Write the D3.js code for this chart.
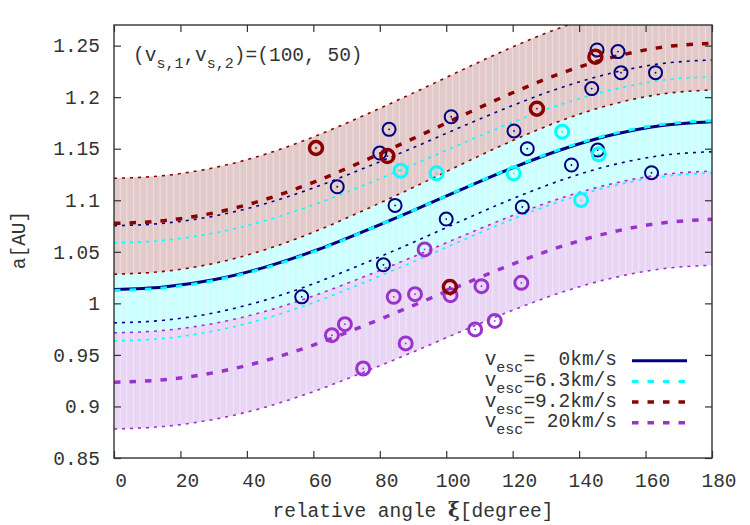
<!doctype html>
<html>
<head>
<meta charset="utf-8">
<script src="https://d3js.org/d3.v7.min.js"></script>
<style>
  body { margin: 0; background: #fff; }
  text { font-family: "Liberation Mono", "Courier New", monospace; fill: #333; }
</style>
</head>
<body>
<div id="chart"></div>
<script>
// relative angle samples [degree]
var xi = [0, 15, 30, 45, 60, 75, 90, 105, 120, 135, 150, 165, 180];

// curves: central line and band edges for each v_esc
var navyMid  = [1.0135, 1.0159, 1.0229, 1.0347, 1.0506, 1.0696, 1.0900, 1.1111, 1.1315, 1.1495, 1.1635, 1.1726, 1.1762];
var navyHi   = [1.0753, 1.0777, 1.0846, 1.0962, 1.1120, 1.1308, 1.1509, 1.1718, 1.1919, 1.2097, 1.2236, 1.2326, 1.2361];
var navyLo   = [0.9811, 0.9836, 0.9907, 1.0027, 1.0190, 1.0384, 1.0591, 1.0807, 1.1015, 1.1199, 1.1342, 1.1435, 1.1471];
var cyanMid  = [1.0125, 1.0150, 1.0221, 1.0339, 1.0500, 1.0693, 1.0899, 1.1113, 1.1319, 1.1502, 1.1644, 1.1736, 1.1772];
var cyanHi   = [1.0587, 1.0611, 1.0681, 1.0797, 1.0955, 1.1143, 1.1345, 1.1554, 1.1756, 1.1935, 1.2073, 1.2164, 1.2199];
var cyanLo   = [0.9636, 0.9660, 0.9731, 0.9848, 1.0007, 1.0198, 1.0402, 1.0613, 1.0817, 1.0998, 1.1138, 1.1229, 1.1265];
var brownMid = [1.0776, 1.0802, 1.0877, 1.1003, 1.1174, 1.1379, 1.1597, 1.1824, 1.2043, 1.2237, 1.2387, 1.2485, 1.2523];
var brownHi  = [1.1213, 1.1239, 1.1315, 1.1441, 1.1614, 1.1819, 1.2039, 1.2267, 1.2487, 1.2682, 1.2833, 1.2931, 1.2970];
var brownLo  = [1.0283, 1.0310, 1.0387, 1.0515, 1.0690, 1.0900, 1.1123, 1.1355, 1.1579, 1.1777, 1.1931, 1.2031, 1.2070];
var purpMid  = [0.9235, 0.9259, 0.9327, 0.9440, 0.9595, 0.9780, 0.9978, 1.0183, 1.0381, 1.0556, 1.0692, 1.0780, 1.0815];
var purpHi   = [0.9714, 0.9738, 0.9805, 0.9918, 1.0072, 1.0255, 1.0451, 1.0655, 1.0852, 1.1026, 1.1161, 1.1249, 1.1283];
var purpLo   = [0.8782, 0.8806, 0.8874, 0.8988, 0.9144, 0.9330, 0.9528, 0.9735, 0.9933, 1.0110, 1.0246, 1.0335, 1.0370];

// observed objects [xi, a]
var navyPts = [[56.5, 1.0063], [67.2, 1.1131], [80.0, 1.1458], [82.8, 1.1688], [84.6, 1.0950], [81.1, 1.0374],
               [100.0, 1.0818], [101.5, 1.1810], [120.4, 1.1672], [122.9, 1.0935], [124.4, 1.1500], [137.7, 1.1342],
               [143.8, 1.2083], [145.4, 1.2458], [145.6, 1.1487], [151.7, 1.2442], [152.6, 1.2238], [161.8, 1.1267], [163.0, 1.2238]];
var cyanPts = [[86.3, 1.1286], [97.1, 1.1261], [120.3, 1.1261], [134.9, 1.1665], [140.6, 1.1002], [145.9, 1.1446]];
var brownPts = [[60.8, 1.1507], [82.3, 1.1429], [101.1, 1.0159], [127.3, 1.1888], [144.9, 1.2393]];
var purpPts = [[65.6, 0.9691], [69.5, 0.9798], [75.0, 0.9368], [84.2, 1.0063], [87.8, 0.9611], [90.6, 1.0089],
               [93.5, 1.0523], [101.3, 1.0079], [108.7, 0.9747], [110.6, 1.0167], [114.6, 0.9830], [122.6, 1.0199]];

var xTicks = [0, 20, 40, 60, 80, 100, 120, 140, 160, 180];
var yTicks = [0.85, 0.9, 0.95, 1, 1.05, 1.1, 1.15, 1.2, 1.25];
var legendLabels = ["=  0km/s", "=6.3km/s", "=9.2km/s", "= 20km/s"];

var NAVY = "#000080", CYAN = "#00ffff", BROWN = "#8b0000", PURPLE = "#9933cc";

(function() {
  var W = 750, H = 525;
  var mLeft = 114, mRight = 712, mTop = 25, mBottom = 458;

  var svg = d3.select("#chart").append("svg")
      .attr("width", W).attr("height", H);

  var x = d3.scaleLinear().domain([0, 180]).range([mLeft, mRight]);
  var y = d3.scaleLinear().domain([0.85, 1.27]).range([mBottom, mTop]);

  var defs = svg.append("defs");
  defs.append("clipPath").attr("id", "clip")
    .append("rect").attr("x", mLeft).attr("y", mTop).attr("width", mRight - mLeft).attr("height", mBottom - mTop);
  var pat = defs.append("pattern").attr("id", "stripes")
      .attr("patternUnits", "userSpaceOnUse").attr("width", 6.65).attr("height", 10);
  pat.append("rect").attr("x", 0).attr("y", 0).attr("width", 1).attr("height", 10)
      .attr("fill", "#fff").attr("opacity", 0.4);

  var plot = svg.append("g").attr("clip-path", "url(#clip)");

  function band(hi, lo) {
    return d3.area()
      .x(function(d, i) { return x(xi[i]); })
      .y0(function(d, i) { return y(lo[i]); })
      .y1(function(d, i) { return y(hi[i]); })
      .curve(d3.curveMonotoneX)(xi);
  }
  function line(vals) {
    return d3.line()
      .x(function(d, i) { return x(xi[i]); })
      .y(function(d, i) { return y(vals[i]); })
      .curve(d3.curveMonotoneX)(xi);
  }

  // bands
  var bands = [[cyanHi, cyanLo, "#ccffff"], [brownHi, brownLo, "#e3caca"], [purpHi, purpLo, "#e9d6f5"]];
  bands.forEach(function(b) {
    plot.append("path").attr("d", band(b[0], b[1])).attr("fill", b[2]);
    plot.append("path").attr("d", band(b[0], b[1])).attr("fill", "url(#stripes)");
  });

  // dotted band edges
  var edges = [[navyHi, NAVY], [navyLo, NAVY], [cyanHi, CYAN], [cyanLo, CYAN],
               [brownHi, BROWN], [brownLo, BROWN], [purpHi, PURPLE], [purpLo, PURPLE]];
  edges.forEach(function(e) {
    plot.append("path").attr("d", line(e[0])).attr("fill", "none")
      .attr("stroke", e[1]).attr("stroke-width", 1.6).attr("stroke-dasharray", "3,5");
  });

  // central lines
  plot.append("path").attr("d", line(navyMid)).attr("fill", "none")
    .attr("stroke", NAVY).attr("stroke-width", 3);
  plot.append("path").attr("d", line(cyanMid)).attr("fill", "none")
    .attr("stroke", CYAN).attr("stroke-width", 3).attr("stroke-dasharray", "6.5,9");
  plot.append("path").attr("d", line(brownMid)).attr("fill", "none")
    .attr("stroke", BROWN).attr("stroke-width", 3.5).attr("stroke-dasharray", "6.5,9");
  plot.append("path").attr("d", line(purpMid)).attr("fill", "none")
    .attr("stroke", PURPLE).attr("stroke-width", 3.5).attr("stroke-dasharray", "6.5,9");

  // points
  function points(pts, color, sw) {
    var g = plot.append("g");
    g.selectAll("circle.ring").data(pts).enter().append("circle")
      .attr("class", "ring")
      .attr("cx", function(d) { return x(d[0]); })
      .attr("cy", function(d) { return y(d[1]); })
      .attr("r", 6.5).attr("fill", "none").attr("stroke", color).attr("stroke-width", sw);
    g.selectAll("circle.dot").data(pts).enter().append("circle")
      .attr("class", "dot")
      .attr("cx", function(d) { return x(d[0]); })
      .attr("cy", function(d) { return y(d[1]); })
      .attr("r", 0.9).attr("fill", color);
  }
  points(navyPts, NAVY, 2);
  points(cyanPts, CYAN, 3);
  points(purpPts, PURPLE, 3);
  points(brownPts, BROWN, 3.5);

  // axes
  var fs = "19.5px";
  var axL = svg.append("g").attr("transform", "translate(" + mLeft + ",0)")
    .call(d3.axisLeft(y).tickValues(yTicks).tickFormat(d3.format("")).tickSizeInner(-7).tickSizeOuter(0).tickPadding(14));
  var axB = svg.append("g").attr("transform", "translate(0," + mBottom + ")")
    .call(d3.axisBottom(x).tickValues(xTicks).tickSizeInner(-7).tickSizeOuter(0).tickPadding(15));
  var axT = svg.append("g").attr("transform", "translate(0," + mTop + ")")
    .call(d3.axisTop(x).tickValues(xTicks).tickFormat("").tickSizeInner(-7).tickSizeOuter(0));
  var axR = svg.append("g").attr("transform", "translate(" + mRight + ",0)")
    .call(d3.axisRight(y).tickValues(yTicks).tickFormat("").tickSizeInner(-7).tickSizeOuter(0));
  [axL, axB, axT, axR].forEach(function(a) {
    a.select(".domain").remove();
    a.selectAll("line").attr("stroke", "#333").attr("stroke-width", 1.2);
    a.selectAll("text").style("font-family", "Liberation Mono, monospace").style("font-size", fs).attr("fill", "#333");
  });
  axB.selectAll("text").attr("dx", 6.5);

  svg.append("rect").attr("x", mLeft).attr("y", mTop).attr("width", mRight - mLeft).attr("height", mBottom - mTop)
    .attr("fill", "none").attr("stroke", "#333").attr("stroke-width", 1.4);

  // axis titles
  svg.append("text").attr("x", 413).attr("y", 517).attr("text-anchor", "middle")
    .style("font-size", fs)
    .html('relative angle <tspan style="font-family:DejaVu Serif, serif;font-weight:bold;font-size:20px">ξ</tspan>[degree]');
  svg.append("text").attr("transform", "translate(25,240) rotate(-90)").attr("text-anchor", "middle")
    .style("font-size", fs).text("a[AU]");

  // inner title
  svg.append("text").attr("x", 133).attr("y", 61).style("font-size", fs)
    .html('(v<tspan dy="7" style="font-size:15px">s,1</tspan><tspan dy="-7">,v</tspan><tspan dy="7" style="font-size:15px">s,2</tspan><tspan dy="-7">)=(100, 50)</tspan>');

  // legend
  var legendStyles = [[NAVY, null, 3], [CYAN, "6.5,9", 3], [BROWN, "6.5,9", 3.5], [PURPLE, "6.5,9", 3.5]];
  legendLabels.forEach(function(lab, i) {
    var ly = 360.7 + i * 20.7;
    svg.append("text").attr("x", 617).attr("y", ly + 4.5).attr("text-anchor", "end")
      .style("font-size", fs).style("white-space", "pre")
      .html('v<tspan dy="7" style="font-size:15px">esc</tspan><tspan dy="-7">' + lab + '</tspan>');
    var s = legendStyles[i];
    svg.append("line").attr("x1", 632).attr("x2", 687).attr("y1", ly).attr("y2", ly)
      .attr("stroke", s[0]).attr("stroke-width", s[2]).attr("stroke-dasharray", s[1]);
  });
})();
</script>
</body>
</html>
